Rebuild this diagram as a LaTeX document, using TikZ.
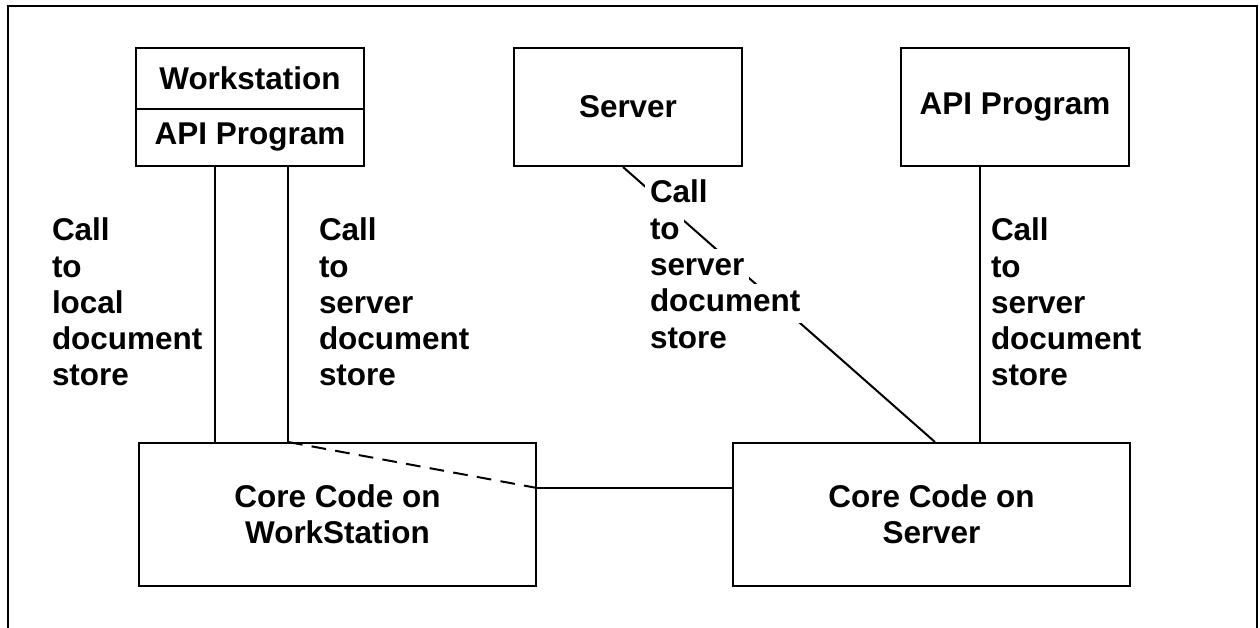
\documentclass[tikz,border=0pt]{standalone}
\usepackage{fontspec}
\setmainfont{Liberation Sans}
\usetikzlibrary{calc}
% line of text on a white strip (padded, layout unchanged) hiding a connector behind it
\newcommand{\whiteline}[1]{{\setlength{\fboxsep}{3.5pt}\hspace*{-3.5pt}\smash{\colorbox{white}{\vphantom{Cg}#1}}\hspace*{-3.5pt}}}
\begin{document}
\begin{tikzpicture}[x=0.75pt,y=-0.75pt,line width=1.5pt,
  txt/.style={font=\bfseries\fontsize{23.6}{27.2}\selectfont},
  box/.style={draw,txt,align=center,inner sep=0pt},
  smallbox/.style={box,minimum width=171pt},
  bigbox/.style={box,minimum width=297.75pt,minimum height=107.25pt},
  callnote/.style={txt,align=left,anchor=north west,inner sep=0pt}]
\useasboundingbox (0,0) rectangle (1260,628);
% outer frame, its lower edge lies below the page
\draw (8,640) -- (8,6) -- (1257,6) -- (1257,640);

% top row
\node[smallbox,minimum height=45.75pt] (wstop) at (250,78.5) {Workstation};
\node[smallbox,minimum height=42.75pt] (wsapi) at (250,137.5) {API Program};
\node[smallbox,minimum height=88.5pt] (server) at (628,107) {\raisebox{-1.5pt}{Server}};
\node[smallbox,minimum height=88.5pt] (api) at (1015,107) {API Program};

% bottom row
\node[bigbox] (corews) at (337.5,514.5) {\rule{0pt}{4pt}Core Code on\\WorkStation};
\node[bigbox] (coresrv) at (931.5,514.5) {\rule{0pt}{4pt}Core Code on\\Server};

% connectors
\draw ([xshift=-26.25pt]wsapi.south) coordinate (l1) -- (l1 |- corews.north);
\draw ([xshift=28.5pt]wsapi.south) coordinate (l2) -- (l2 |- corews.north) coordinate (l2b);
\coordinate (mid) at ([yshift=19.9pt]corews.east);
\draw[dash pattern=on 11pt off 7pt] (l2b) -- (mid);
\draw (mid) -- (mid -| coresrv.west);
\draw ([xshift=-3.75pt]server.south) -- ([xshift=2.6pt]coresrv.north);
\draw ([xshift=-26.25pt]api.south) coordinate (r1) -- (r1 |- coresrv.north);

% labels
\node[callnote] (lab1) at (51,217) {Call\\to\\local\\document\\store};
\node[callnote] (lab2) at (318,217) {Call\\to\\server\\document\\store};
\node[callnote,anchor=base west] (lab3) at (649,348) {\whiteline{Call}\\\whiteline{to}\\\whiteline{server}\\\whiteline{document}\\\whiteline{store}};
\node[callnote] (lab4) at (990,217) {Call\\to\\server\\document\\store};
\end{tikzpicture}
\end{document}
